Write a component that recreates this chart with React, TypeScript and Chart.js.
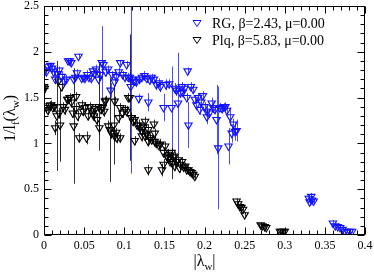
import React, { useEffect, useRef } from "react";
import { Chart, registerables } from "chart.js";

Chart.register(...registerables);

// RG, beta=2.43, mu=0.00
const rgX = [
  0.001, 0.003, 0.005, 0.008, 0.010, 0.012, 0.014, 0.017, 0.019, 0.022, 0.025, 0.028, 0.030, 0.032, 0.034, 0.037,
  0.039, 0.041, 0.043, 0.047, 0.049, 0.051, 0.054, 0.056, 0.059, 0.061, 0.063, 0.065, 0.068, 0.070, 0.072, 0.074,
  0.077, 0.080, 0.083, 0.085, 0.088, 0.090, 0.093, 0.095, 0.098, 0.101, 0.103, 0.105, 0.107, 0.108, 0.110, 0.113,
  0.115, 0.118, 0.119, 0.122, 0.125, 0.128, 0.130, 0.132, 0.134, 0.137, 0.140, 0.143, 0.145, 0.149, 0.152, 0.156,
  0.159, 0.163, 0.165, 0.167, 0.170, 0.172, 0.173, 0.175, 0.178, 0.179, 0.180, 0.183, 0.186, 0.188, 0.190, 0.192,
  0.194, 0.196, 0.198, 0.200, 0.203, 0.203, 0.206, 0.209, 0.211, 0.213, 0.215, 0.217, 0.219, 0.222, 0.224, 0.226,
  0.228, 0.230, 0.232, 0.234, 0.236, 0.238, 0.240,
  0.330, 0.331, 0.333, 0.334, 0.336, 0.360, 0.363, 0.366, 0.369, 0.372, 0.375, 0.378, 0.381, 0.384,
];
const rgY = [
  1.80, 1.78, 1.84, 1.85, 1.82, 1.78, 1.70, 1.76, 1.80, 1.73, 1.68, 1.70, 1.90, 1.90, 1.88, 1.70,
  1.72, 1.77, 1.95, 1.71, 1.72, 1.71, 1.75, 1.72, 1.71, 1.79, 1.76, 1.81, 1.70, 1.75, 1.88, 1.86,
  1.78, 1.81, 1.58, 1.75, 1.67, 1.73, 1.78, 1.88, 1.75, 1.72, 1.86, 1.72, 1.72, 1.62, 1.70, 1.68,
  1.67, 1.49, 1.70, 1.72, 1.74, 1.71, 1.45, 1.69, 1.72, 1.70, 1.64, 1.66, 1.62, 1.39, 1.64, 1.65,
  1.39, 1.60, 1.58, 1.44, 1.55, 1.62, 1.56, 1.60, 1.50, 1.79, 1.20, 1.62, 1.59, 1.48, 1.42, 1.50,
  1.37, 1.45, 1.52, 1.40, 1.35, 1.29, 1.33, 1.44, 1.39, 1.37, 1.26, 0.95, 1.39, 1.38, 1.40, 1.40,
  1.36, 0.97, 1.29, 1.11, 1.21, 1.13, 1.14,
  0.40, 0.36, 0.42, 0.38, 0.37, 0.13, 0.10, 0.09, 0.08, 0.06, 0.04, 0.04, 0.04, 0.04,
];
const rgErr = [
  0.03, 0.03, 0.03, 0.03, 0.04, 0.05, 0.05, 0.03, 0.04, 0.06, 0.04, 0.05, 0.03, 0.03, 0.03, 0.04,
  0.03, 0.04, 0.03, 0.03, 0.03, 0.04, 0.05, 0.03, 0.03, 0.04, 0.03, 0.05, 0.04, 0.04, 0.40, 0.05,
  0.05, 0.04, 0.08, 0.04, 0.05, 0.04, 0.05, 0.03, 0.04, 0.04, 0.04, 0.05, 0.06, 0.95, 0.04, 0.04,
  0.05, 0.05, 0.04, 0.04, 0.05, 0.05, 0.10, 0.04, 0.04, 0.05, 0.05, 0.05, 0.06, 0.15, 0.06, 0.05,
  0.45, 0.06, 0.06, 0.55, 0.05, 0.05, 0.06, 0.05, 0.05, 0.04, 0.25, 0.05, 0.05, 0.05, 0.06, 0.05,
  0.06, 0.05, 0.05, 0.05, 0.06, 0.08, 0.05, 0.06, 0.06, 0.05, 0.38, 0.67, 0.05, 0.05, 0.04, 0.05,
  0.05, 0.20, 0.10, 0.10, 0.06, 0.10, 0.12,
  0.04, 0.04, 0.04, 0.03, 0.03, 0.03, 0.02, 0.02, 0.02, 0.02, 0.02, 0.02, 0.02, 0.02,
];

// Plq, beta=5.83, mu=0.00
const plqX = [
  0.000, 0.001, 0.003, 0.005, 0.007, 0.009, 0.011, 0.013, 0.014, 0.016, 0.018, 0.019, 0.020, 0.022, 0.024, 0.026,
  0.029, 0.030, 0.032, 0.034, 0.036, 0.037, 0.040, 0.040, 0.042, 0.044, 0.047, 0.049, 0.051, 0.053, 0.055, 0.057,
  0.059, 0.061, 0.062, 0.064, 0.066, 0.068, 0.069, 0.071, 0.073, 0.075, 0.076, 0.077, 0.080, 0.082, 0.084, 0.087,
  0.088, 0.088, 0.090, 0.091, 0.093, 0.095, 0.095, 0.098, 0.101, 0.103, 0.105, 0.107, 0.109, 0.111, 0.113, 0.113,
  0.116, 0.118, 0.120, 0.122, 0.122, 0.124, 0.126, 0.126, 0.128, 0.130, 0.130, 0.130, 0.132, 0.134, 0.137, 0.138,
  0.138, 0.140, 0.143, 0.145, 0.147, 0.149, 0.149, 0.151, 0.153, 0.155, 0.155, 0.157, 0.159, 0.160, 0.161, 0.163,
  0.163, 0.165, 0.167, 0.169, 0.170, 0.172, 0.174, 0.176, 0.178, 0.180, 0.182, 0.184, 0.186, 0.188,
  0.240, 0.242, 0.244, 0.246, 0.248, 0.250, 0.270, 0.272, 0.275, 0.277, 0.294, 0.296, 0.298, 0.300,
];
const plqY = [
  1.62, 1.60, 1.39, 1.36, 1.41, 1.42, 1.39, 1.40, 1.17, 1.30, 1.68, 1.33, 1.20, 1.62, 1.40, 1.37,
  1.48, 1.48, 1.50, 1.45, 1.33, 1.19, 1.38, 1.51, 1.30, 1.06, 1.42, 1.35, 1.39, 1.06, 1.30, 1.40,
  1.36, 1.33, 1.30, 1.38, 1.26, 1.40, 1.17, 1.37, 1.39, 1.35, 1.46, 1.47, 1.19, 1.15, 1.11, 1.20,
  1.46, 1.08, 1.12, 1.06, 1.28, 1.39, 1.06, 1.33, 1.37, 1.35, 1.50, 1.50, 1.28, 1.24, 1.26, 1.03,
  1.20, 1.20, 1.17, 1.13, 1.08, 1.18, 1.24, 1.08, 1.10, 1.15, 1.02, 0.71, 1.06, 1.04, 1.21, 1.11,
  1.02, 1.00, 0.98, 0.99, 0.71, 0.90, 0.77, 0.97, 0.86, 0.88, 0.84, 0.80, 0.90, 0.78, 0.85, 0.86,
  0.75, 0.80, 0.82, 0.73, 0.77, 0.80, 0.74, 0.75, 0.71, 0.71, 0.69, 0.68, 0.66, 0.64,
  0.37, 0.34, 0.31, 0.30, 0.28, 0.22, 0.11, 0.10, 0.09, 0.08, 0.04, 0.04, 0.04, 0.04,
];
const plqErr = [
  0.05, 0.05, 0.06, 0.05, 0.05, 0.05, 0.05, 0.05, 0.08, 0.60, 0.05, 0.06, 0.40, 0.05, 0.05, 0.06,
  0.05, 0.05, 0.05, 0.06, 0.05, 0.63, 0.06, 0.05, 0.06, 0.05, 0.05, 0.05, 0.06, 0.07, 0.05, 0.05,
  0.05, 0.05, 0.06, 0.05, 0.06, 0.48, 0.08, 0.05, 0.05, 0.06, 0.05, 0.05, 0.06, 0.57, 0.06, 0.43,
  0.05, 0.06, 0.05, 0.06, 0.06, 0.05, 0.05, 0.05, 0.05, 0.06, 0.05, 0.69, 0.06, 0.05, 0.05, 0.05,
  0.05, 0.06, 0.05, 0.05, 0.06, 0.05, 0.05, 0.05, 0.05, 0.06, 0.05, 0.06, 0.05, 0.05, 0.05, 0.05,
  0.05, 0.05, 0.05, 0.06, 0.07, 0.06, 0.06, 0.05, 0.05, 0.06, 0.05, 0.05, 0.05, 0.17, 0.05, 0.05,
  0.05, 0.05, 0.05, 0.05, 0.05, 0.05, 0.04, 0.04, 0.04, 0.04, 0.04, 0.04, 0.04, 0.04,
  0.03, 0.03, 0.03, 0.03, 0.03, 0.03, 0.02, 0.02, 0.02, 0.02, 0.02, 0.02, 0.02, 0.02,
];

const seriesLabels = ["RG, \u03b2=2.43, \u03bc=0.00", "Plq, \u03b2=5.83, \u03bc=0.00"];
const seriesColors = ["#1010ff", "#000000"];
const errColors = ["rgba(0,0,255,0.7)", "rgba(0,0,0,0.8)"];

const X_MIN = 0, X_MAX = 0.4, X_MAJOR = 0.05, X_MINOR = 0.01;
const Y_MIN = 0, Y_MAX = 2.5, Y_MAJOR = 0.5, Y_MINOR = 0.1;

const SERIF = "'Liberation Serif', 'DejaVu Serif', serif";

const toPoints = (xs: number[], ys: number[]) => xs.map((x, i) => ({ x, y: ys[i] }));
const fmt = (v: number) => String(Number(Number(v).toFixed(2)));

const errorsByDataset = [rgErr, plqErr];

const decorPlugin = {
  id: "decor",
  beforeDatasetsDraw(chart: any) {
    const ctx = chart.ctx;
    const { left, right, top, bottom } = chart.chartArea;
    const xs = chart.scales.x;
    const ys = chart.scales.y;
    ctx.save();
    ctx.beginPath();
    ctx.rect(left, top, right - left, bottom - top);
    ctx.clip();
    chart.data.datasets.forEach((ds: any, di: number) => {
      const errs = errorsByDataset[di];
      ctx.strokeStyle = errColors[di];
      ctx.lineWidth = 1;
      ds.data.forEach((p: any, i: number) => {
        const e = errs[i];
        const px = Math.round(xs.getPixelForValue(p.x)) + 0.5;
        const y1 = ys.getPixelForValue(p.y - e);
        const y2 = ys.getPixelForValue(p.y + e);
        ctx.beginPath();
        ctx.moveTo(px, y1);
        ctx.lineTo(px, y2);
        ctx.stroke();
      });
    });
    ctx.restore();
  },
  afterDatasetsDraw(chart: any) {
    const ctx = chart.ctx;
    const { left, right, top, bottom } = chart.chartArea;
    const xs = chart.scales.x;
    const ys = chart.scales.y;
    ctx.save();
    ctx.strokeStyle = "#000";
    ctx.lineWidth = 1;
    const L = Math.round(left) + 0.5, R = Math.round(right) - 0.5;
    const T = Math.round(top) + 0.5, B = Math.round(bottom) - 0.5;
    ctx.strokeRect(L, T, R - L, B - T);
    const nX = Math.round((X_MAX - X_MIN) / X_MINOR);
    for (let i = 0; i <= nX; i++) {
      const v = X_MIN + i * X_MINOR;
      const major = i % Math.round(X_MAJOR / X_MINOR) === 0;
      const len = major ? 7 : 4;
      const px = Math.round(xs.getPixelForValue(v)) + 0.5;
      ctx.beginPath();
      ctx.moveTo(px, B);
      ctx.lineTo(px, B - len);
      ctx.moveTo(px, T);
      ctx.lineTo(px, T + len);
      ctx.stroke();
    }
    const nY = Math.round((Y_MAX - Y_MIN) / Y_MINOR);
    for (let i = 0; i <= nY; i++) {
      const v = Y_MIN + i * Y_MINOR;
      const major = i % Math.round(Y_MAJOR / Y_MINOR) === 0;
      const len = major ? 7 : 4;
      const py = Math.round(ys.getPixelForValue(v)) + 0.5;
      ctx.beginPath();
      ctx.moveTo(L, py);
      ctx.lineTo(L + len, py);
      ctx.moveTo(R, py);
      ctx.lineTo(R - len, py);
      ctx.stroke();
    }
    // legend
    ctx.textBaseline = "middle";
    ctx.textAlign = "left";
    ctx.font = `14px ${SERIF}`;
    seriesLabels.forEach((lab, i) => {
      const cy = 23 + i * 17;
      const cx = 197;
      ctx.strokeStyle = seriesColors[i];
      ctx.lineWidth = 1;
      ctx.beginPath();
      ctx.moveTo(cx - 4, cy - 2.5);
      ctx.lineTo(cx + 4, cy - 2.5);
      ctx.lineTo(cx, cy + 3.5);
      ctx.closePath();
      ctx.stroke();
      ctx.fillStyle = "#000";
      ctx.fillText(lab, 212, cy + 1);
    });
    // axis titles
    const drawParts = (parts: [string, boolean][], cx: number, cy: number) => {
      const big = `16px ${SERIF}`;
      const small = `11px ${SERIF}`;
      let total = 0;
      parts.forEach(([t, sub]) => {
        ctx.font = sub ? small : big;
        total += ctx.measureText(t).width;
      });
      let x = cx - total / 2;
      ctx.textAlign = "left";
      ctx.textBaseline = "alphabetic";
      parts.forEach(([t, sub]) => {
        ctx.font = sub ? small : big;
        ctx.fillText(t, x, cy + (sub ? 4 : 0));
        x += ctx.measureText(t).width;
      });
    };
    ctx.fillStyle = "#000";
    drawParts([["|\u03bb", false], ["w", true], ["|", false]], (left + right) / 2, 266);
    ctx.translate(15, (top + bottom) / 2 - 2);
    ctx.rotate(-Math.PI / 2);
    drawParts(
      [["1/l", false], ["f", true], ["(\u03bb", false], ["w", true], [")", false]],
      0,
      0
    );
    ctx.restore();
  },
};

export default function App() {
  const ref = useRef<HTMLCanvasElement | null>(null);
  useEffect(() => {
    document.body.style.margin = "0";
    const canvas = ref.current;
    if (!canvas) return;
    const pointCommon = {
      showLine: false,
      pointStyle: "triangle",
      rotation: 180,
      pointRadius: 4.3,
      pointHoverRadius: 4.3,
      pointBorderWidth: 1.1,
      backgroundColor: "rgba(0,0,0,0)",
      pointBackgroundColor: "rgba(0,0,0,0)",
    };
    const chart = new Chart(canvas, {
      type: "scatter",
      data: {
        datasets: [
          {
            ...pointCommon,
            label: seriesLabels[0],
            data: toPoints(rgX, rgY),
            borderColor: seriesColors[0],
            pointBorderColor: seriesColors[0],
          },
          {
            ...pointCommon,
            label: seriesLabels[1],
            data: toPoints(plqX, plqY),
            borderColor: seriesColors[1],
            pointBorderColor: seriesColors[1],
          },
        ],
      } as any,
      options: {
        animation: false,
        responsive: false,
        maintainAspectRatio: false,
        layout: { padding: { top: 6, right: 9, left: 0, bottom: 0 } },
        plugins: { legend: { display: false }, tooltip: { enabled: false } },
        scales: {
          x: {
            type: "linear",
            min: X_MIN,
            max: X_MAX,
            grid: { display: false, drawTicks: false },
            border: { display: false },
            ticks: {
              stepSize: X_MAJOR,
              padding: 4,
              color: "#000",
              font: { family: SERIF, size: 12 },
              maxRotation: 0,
              autoSkip: false,
              callback: (v: any) => fmt(v),
            },
            afterFit: (s: any) => {
              s.height = 38;
              s.paddingLeft = 0;
              s.paddingRight = 0;
            },
          },
          y: {
            type: "linear",
            min: Y_MIN,
            max: Y_MAX,
            grid: { display: false, drawTicks: false },
            border: { display: false },
            ticks: {
              stepSize: Y_MAJOR,
              padding: 5,
              color: "#000",
              font: { family: SERIF, size: 12 },
              autoSkip: false,
              callback: (v: any) => fmt(v),
            },
            afterFit: (s: any) => {
              s.width = 44;
              s.paddingTop = 0;
              s.paddingBottom = 0;
            },
          },
        },
      } as any,
      plugins: [decorPlugin],
    });
    return () => chart.destroy();
  }, []);
  return (
    <div style={{ width: 374, height: 273, background: "#fff" }}>
      <canvas ref={ref} width={374} height={273} style={{ display: "block" }} />
    </div>
  );
}
